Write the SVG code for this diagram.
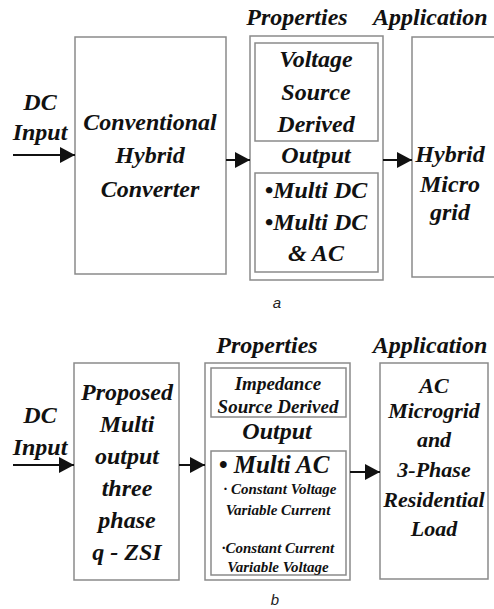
<svg xmlns="http://www.w3.org/2000/svg" width="494" height="609" viewBox="0 0 494 609">
<style>
.t{font-family:"Liberation Serif","Times New Roman",serif;font-weight:bold;font-style:italic;fill:#111;text-anchor:middle}
.box{fill:#fff;stroke:#8a8a8a;stroke-width:1.5}
.ln{stroke:#111;stroke-width:2;fill:none}
.lbl{font-family:"Liberation Sans",Arial,sans-serif;font-style:italic;font-size:15px;fill:#222;text-anchor:middle}
</style>
<defs>
<marker id="ah" markerUnits="userSpaceOnUse" markerWidth="16" markerHeight="16" refX="15" refY="8" orient="auto">
<path d="M0,0 L15,8 L0,16 Z" fill="#111"/>
</marker>
</defs>
<rect width="494" height="609" fill="#fff"/>

<!-- Panel a -->
<g id="a-input">
<text class="t" x="40" y="110" font-size="24">DC</text>
<text class="t" x="40" y="140" font-size="24">Input</text>
</g>
<g id="a-converter">
<rect class="box" x="75" y="37" width="151" height="237"/>
<text class="t" x="150" y="130" font-size="24">Conventional</text>
<text class="t" x="150" y="163" font-size="24">Hybrid</text>
<text class="t" x="150" y="197" font-size="24">Converter</text>
</g>
<g id="a-properties">
<text class="t" x="297" y="25" font-size="24">Properties</text>
<rect class="box" x="250" y="36" width="133" height="244"/>
<rect class="box" x="255" y="43" width="123" height="98"/>
<text class="t" x="316" y="67" font-size="24">Voltage</text>
<text class="t" x="316" y="100" font-size="24">Source</text>
<text class="t" x="316" y="132" font-size="24">Derived</text>
<text class="t" x="316" y="163" font-size="24">Output</text>
<rect class="box" x="255" y="173" width="123" height="99"/>
<text class="t" x="316" y="198" font-size="24">•Multi DC</text>
<text class="t" x="316" y="230" font-size="24">•Multi DC</text>
<text class="t" x="316" y="261" font-size="24">&amp; AC</text>
</g>
<g id="a-application">
<text class="t" x="373" y="25" font-size="24" style="text-anchor:start">Application</text>
<rect class="box" x="412" y="37" width="95" height="240"/>
<text class="t" x="450" y="162" font-size="24">Hybrid</text>
<text class="t" x="450" y="192" font-size="24">Micro</text>
<text class="t" x="450" y="220" font-size="24">grid</text>
</g>
<text class="lbl" x="277" y="308">a</text>

<!-- Panel b -->
<g id="b-input">
<text class="t" x="40" y="423" font-size="24">DC</text>
<text class="t" x="40" y="455" font-size="24">Input</text>
</g>
<g id="b-converter">
<rect class="box" x="74" y="363" width="105" height="217"/>
<text class="t" x="127" y="400" font-size="24">Proposed</text>
<text class="t" x="127" y="432" font-size="24">Multi</text>
<text class="t" x="127" y="464" font-size="24">output</text>
<text class="t" x="127" y="496" font-size="24">three</text>
<text class="t" x="127" y="528" font-size="24">phase</text>
<text class="t" x="127" y="560" font-size="24">q - ZSI</text>
</g>
<g id="b-properties">
<text class="t" x="267" y="353" font-size="24">Properties</text>
<rect class="box" x="205" y="363" width="145" height="217"/>
<rect class="box" x="211" y="368" width="135" height="49"/>
<text class="t" x="278" y="390" font-size="19">Impedance</text>
<text class="t" x="278" y="413" font-size="19">Source Derived</text>
<text class="t" x="277" y="439" font-size="24">Output</text>
<rect class="box" x="211" y="451" width="135" height="124"/>
<text class="t" x="274" y="473" font-size="25">• Multi AC</text>
<text class="t" x="280" y="494" font-size="15">· Constant Voltage</text>
<text class="t" x="278" y="515" font-size="15">Variable Current</text>
<text class="t" x="278" y="553" font-size="15">·Constant Current</text>
<text class="t" x="278" y="572" font-size="15">Variable Voltage</text>
</g>
<g id="b-application">
<text class="t" x="430" y="353" font-size="24">Application</text>
<rect class="box" x="380" y="363" width="108" height="216"/>
<text class="t" x="434" y="393" font-size="22">AC</text>
<text class="t" x="434" y="418" font-size="22">Microgrid</text>
<text class="t" x="434" y="447" font-size="22">and</text>
<text class="t" x="434" y="477" font-size="22">3-Phase</text>
<text class="t" x="434" y="507" font-size="22">Residential</text>
<text class="t" x="434" y="536" font-size="22">Load</text>
</g>
<text class="lbl" x="275" y="605">b</text>

<g id="connectors">
<line class="ln" x1="13" y1="155" x2="75" y2="155" marker-end="url(#ah)"/>
<line class="ln" x1="226" y1="160" x2="250" y2="160" marker-end="url(#ah)"/>
<line class="ln" x1="383" y1="160" x2="412" y2="160" marker-end="url(#ah)"/>
<line class="ln" x1="13" y1="465" x2="74" y2="465" marker-end="url(#ah)"/>
<line class="ln" x1="179" y1="465" x2="205" y2="465" marker-end="url(#ah)"/>
<line class="ln" x1="350" y1="472" x2="380" y2="472" marker-end="url(#ah)"/>
</g>
</svg>
